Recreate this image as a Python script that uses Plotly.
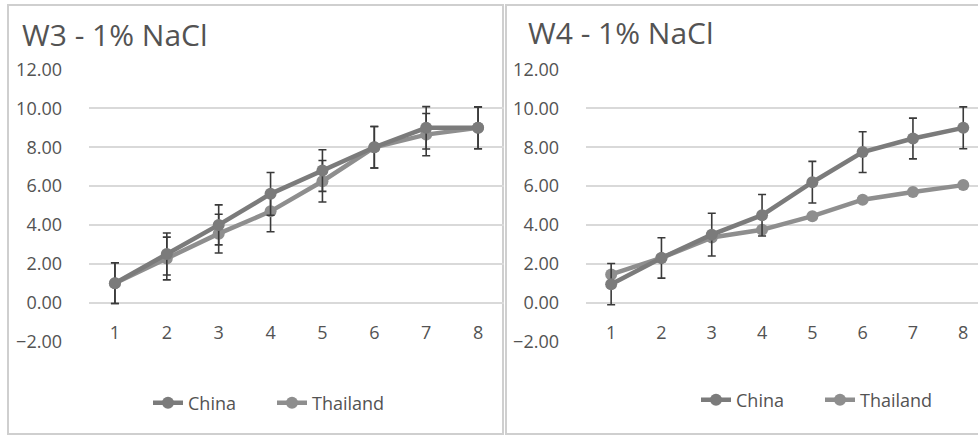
import plotly.graph_objects as go

W, H = 978, 437

# ---------------- data ----------------
categories = [1, 2, 3, 4, 5, 6, 7, 8]
category_labels = ["1", "2", "3", "4", "5", "6", "7", "8"]

w3_china = [1.0, 2.5, 4.0, 5.6, 6.8, 8.0, 9.0, 9.0]
w3_china_err = [1.05, 1.08, 1.03, 1.1, 1.07, 1.07, 1.09, 1.08]
w3_thailand = [1.0, 2.27, 3.55, 4.7, 6.25, 8.0, 8.65, 9.0]
w3_thailand_err = [1.05, 1.1, 1.0, 1.05, 1.07, 1.07, 1.09, 1.08]

w4_china = [0.95, 2.3, 3.5, 4.5, 6.2, 7.75, 8.45, 9.0]
w4_china_err = [1.06, 1.04, 1.1, 1.07, 1.07, 1.05, 1.05, 1.08]
w4_thailand = [1.45, 2.3, 3.35, 3.75, 4.45, 5.3, 5.7, 6.05]

y_ticks = [-2, 0, 2, 4, 6, 8, 10, 12]

titles = ["W3 - 1% NaCl", "W4 - 1% NaCl"]
series_names = ["China", "Thailand"]

# ---------------- style ----------------
FONT = "Open Sans"
TXT = "#535353"
GRID = "#d9d9d9"
C_CHINA = "#7b7b7b"
C_THAI = "#8e8e8e"
ERR = "#3a3a3a"
BORDER = "#cfcfcf"


def px(x):
    return x / W


def py(y):
    return 1 - y / H


fig = go.Figure()


def add_series(x, y, err, name, color, xa, ya, legend):
    kw = {}
    if err is not None:
        kw["error_y"] = dict(type="data", array=err, visible=True,
                             color=ERR, thickness=1.6, width=4)
    fig.add_trace(go.Scatter(
        x=x, y=y, name=name, mode="lines+markers",
        line=dict(color=color, width=4.5),
        marker=dict(color=color, size=12),
        xaxis=xa, yaxis=ya, legend=legend, **kw))


add_series(categories, w3_thailand, w3_thailand_err, series_names[1], C_THAI, "x", "y", "legend")
add_series(categories, w3_china, w3_china_err, series_names[0], C_CHINA, "x", "y", "legend")
add_series(categories, w4_thailand, None, series_names[1], C_THAI, "x2", "y2", "legend2")
add_series(categories, w4_china, w4_china_err, series_names[0], C_CHINA, "x2", "y2", "legend2")

ydom = [py(342), py(69)]
zero_pos = py(303)

xcommon = dict(tickmode="array", tickvals=categories, ticktext=category_labels,
               showgrid=False, zeroline=False, showline=False, ticks="",
               tickfont=dict(family=FONT, size=18, color=TXT), automargin=False,
               anchor="free", position=zero_pos, ticklabelstandoff=17)
ycommon = dict(tickmode="array", tickvals=y_ticks, tickformat=".2f",
               range=[-2.03, 12.03], showgrid=True, gridcolor=GRID, gridwidth=1.6,
               zeroline=False, showline=False, ticks="", domain=ydom, automargin=False,
               tickfont=dict(family=FONT, size=18, color=TXT),
               ticklabelstandoff=26)

legend_common = dict(orientation="h", xanchor="left", yanchor="middle",
                     font=dict(family=FONT, size=18, color=TXT), traceorder="reversed",
                     entrywidth=79, entrywidthmode="pixels", bgcolor="rgba(0,0,0,0)")

fig.update_layout(
    width=W, height=H,
    margin=dict(l=0, r=0, t=0, b=0, autoexpand=False),
    paper_bgcolor="white", plot_bgcolor="white",
    xaxis=dict(domain=[px(89), px(504)], range=[0.5, 8.5], **xcommon),
    yaxis=dict(anchor="x", **ycommon),
    xaxis2=dict(domain=[px(586), 1.0], range=[0.5, 0.5 + (978 - 586) / 50.3], **xcommon),
    yaxis2=dict(anchor="x2", **ycommon),
    legend=dict(x=px(148), y=py(403), **legend_common),
    legend2=dict(x=px(696), y=py(400), **legend_common),
    showlegend=True,
)

# chart-area borders (kept inside the page)
fig.add_shape(type="rect", xref="paper", yref="paper",
              x0=px(8), x1=px(503), y0=py(434), y1=py(5),
              line=dict(color=BORDER, width=2), layer="below")
fig.add_shape(type="path", xref="paper", yref="paper",
              path=f"M {px(978)} {py(434)} L {px(506)} {py(434)} L {px(506)} {py(5)} L {px(978)} {py(5)}",
              line=dict(color=BORDER, width=2), layer="below")

# titles
fig.add_annotation(text=titles[0], xref="paper", yref="paper", x=px(20), y=py(35),
                   xanchor="left", yanchor="middle", showarrow=False,
                   font=dict(family=FONT, size=30, color=TXT))
fig.add_annotation(text=titles[1], xref="paper", yref="paper", x=px(526), y=py(33),
                   xanchor="left", yanchor="middle", showarrow=False,
                   font=dict(family=FONT, size=30, color=TXT))

fig.write_html(
    "out.html",
    config={"displayModeBar": False},
    post_script="document.body.style.margin='0';document.body.style.overflow='hidden';",
)
